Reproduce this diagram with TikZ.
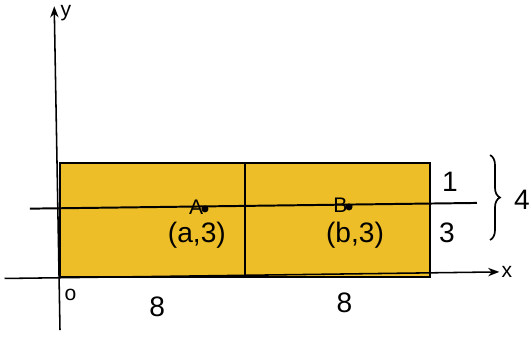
\documentclass[tikz,border=0pt]{standalone}
\usepackage{fontspec}
\setmainfont{Liberation Sans}
\usetikzlibrary{arrows.meta,decorations.pathreplacing,positioning}
\definecolor{ochre}{RGB}{238,190,40}

\begin{document}
\begin{tikzpicture}[x=0.578cm,y=0.7125cm,>=Stealth,
    lbl/.style={font=\fontsize{20}{24}\selectfont,inner sep=1pt},
    axlbl/.style={font=\fontsize{15}{18}\selectfont,inner sep=1pt}]
  \useasboundingbox (-2.595,-2.105) rectangle (20.37,9.72);
  % the two boxes
  \filldraw[fill=ochre,line width=1.1pt] (0,0) rectangle (8,4);
  \filldraw[fill=ochre,line width=1.1pt] (8,0) rectangle (16,4);
  % axes
  \coordinate (xs) at (-2.4,-0.05);
  \coordinate (xe) at (19.0,0.18);
  \coordinate (ys) at (0,-1.86);
  \coordinate (ye) at (-0.25,9.5);
  \draw[->,line width=1.1pt] (xs) -- (xe) node[axlbl,right] (xl) {x};
  \draw[->,line width=1.1pt] (ys) -- (ye) node[axlbl,anchor=north west,xshift=3pt,yshift=2pt] (yl) {y};
  \node[axlbl] (o) at (0.45,-0.62) {o};
  % the line y = 3
  \coordinate (ls) at (-1.3,2.4);
  \coordinate (le) at (18.03,2.6);
  \draw[line width=1.4pt] (ls) -- (le);
  \fill (6.27,2.39) circle (2.5pt) coordinate (pa);
  \fill (12.5,2.46) circle (2.5pt) coordinate (pb);
  \node[axlbl,anchor=south east,yshift=-5pt] (a) at (pa) {A};
  \node[axlbl,anchor=south east,yshift=-5pt] (b) at (pb) {B};
  \node[lbl] (apt) at (5.92,1.48) {(a,3)};
  \node[lbl] (bpt) at (12.76,1.48) {(b,3)};
  % lengths
  \node[lbl] (w1) at (4.2,-1.05) {8};
  \node[lbl] (w2) at (12.3,-0.9) {8};
  \node[lbl] (h1) at (16.86,3.33) {1};
  \node[lbl] (h3) at (16.74,1.54) {3};
  \draw[line width=1.2pt,decorate,
        decoration={brace,amplitude=7pt}] (18.6,4.28) -- (18.6,1.3);
  \node[lbl] (h4) at (19.98,2.7) {4};
\end{tikzpicture}
\end{document}
